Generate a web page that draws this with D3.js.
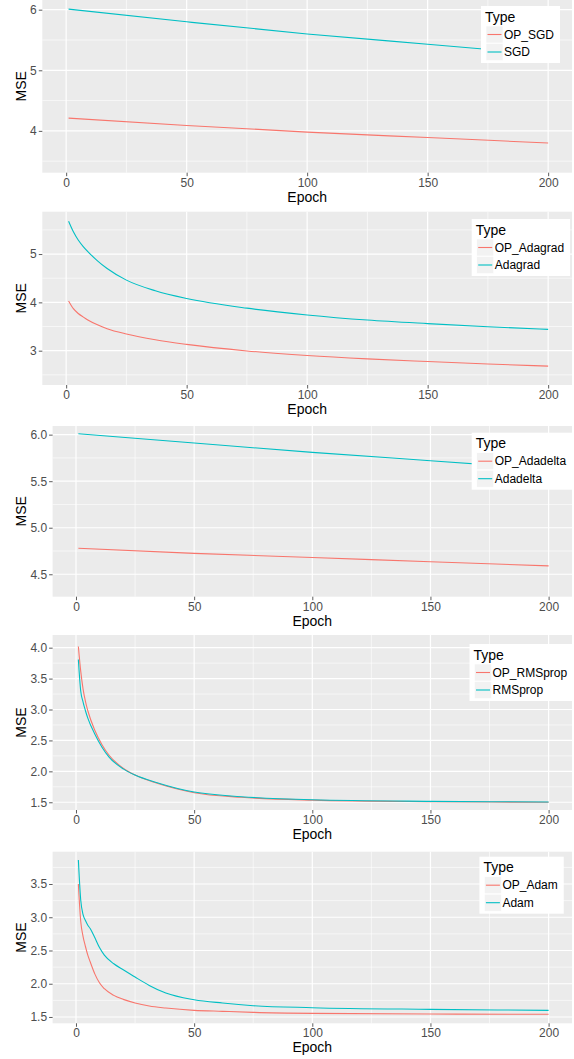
<!DOCTYPE html>
<html>
<head>
<meta charset="utf-8">
<script src="https://cdn.jsdelivr.net/npm/d3@7"></script>
<style>
  body { margin: 0; background: #fff; }
  text { font-family: "Liberation Sans", Arial, Helvetica, sans-serif; }
</style>
</head>
<body>
<div id="viz"></div>
<script>
// data (epoch -> MSE)
var epochsSGD = [1, 50, 100, 150, 200];
var opSGD = [4.21, 4.09, 3.98, 3.89, 3.80];
var SGD = [6.01, 5.80, 5.60, 5.43, 5.26];

var epochsAdagrad = [1, 3, 5, 7, 9, 13, 17, 25, 37, 50, 75, 100, 125, 150, 175, 200];
var opAdagrad = [4.03, 3.87, 3.77, 3.70, 3.635, 3.535, 3.455, 3.345, 3.225, 3.13, 2.995, 2.90, 2.83, 2.775, 2.725, 2.68];
var Adagrad = [5.68, 5.46, 5.29, 5.16, 5.05, 4.86, 4.70, 4.46, 4.24, 4.08, 3.88, 3.74, 3.635, 3.56, 3.495, 3.44];

var epochsAdadelta = [1, 50, 100, 150, 200];
var opAdadelta = [4.78, 4.725, 4.68, 4.635, 4.59];
var Adadelta = [6.01, 5.91, 5.81, 5.72, 5.63];

var epochsRMSprop = [1, 2, 3, 4, 5, 8, 11, 14, 20, 25, 34, 50, 70, 100, 150, 200];
var opRMSprop = [4.02, 3.62, 3.33, 3.13, 2.98, 2.66, 2.43, 2.26, 2.05, 1.94, 1.81, 1.655, 1.58, 1.535, 1.51, 1.50];
var RMSprop = [3.81, 3.30, 3.12, 2.98, 2.86, 2.60, 2.39, 2.23, 2.04, 1.94, 1.82, 1.665, 1.59, 1.54, 1.515, 1.505];

var epochsAdam = [1, 2, 3, 4, 5, 6, 8, 10, 12, 16, 20, 25, 31, 38, 50, 62, 75, 100, 150, 200];
var opAdam = [3.50, 2.94, 2.71, 2.56, 2.43, 2.33, 2.145, 2.01, 1.925, 1.825, 1.765, 1.71, 1.665, 1.635, 1.60, 1.585, 1.57, 1.555, 1.545, 1.54];
var Adam = [3.86, 3.26, 3.04, 2.95, 2.88, 2.83, 2.69, 2.54, 2.43, 2.30, 2.21, 2.10, 1.975, 1.86, 1.76, 1.71, 1.67, 1.64, 1.615, 1.60];

var seriesNames = [
  ["OP_SGD", "SGD"],
  ["OP_Adagrad", "Adagrad"],
  ["OP_Adadelta", "Adadelta"],
  ["OP_RMSprop", "RMSprop"],
  ["OP_Adam", "Adam"]
];
var xTicks = [0, 50, 100, 150, 200];
var xMinor = [25, 75, 125, 175];

var colors = ["#F8766D", "#00BFC4"];

// layout of each panel
var panels = [
  {ep: epochsSGD, a: opSGD, b: SGD, top: 0, bottom: 172.7, left: 42.3, yd: [3.31, 6.16],
   ticks: [4, 5, 6], minor: [3.5, 4.5, 5.5], fmt: d3.format("d"), lx: 481, ly: 6},
  {ep: epochsAdagrad, a: opAdagrad, b: Adagrad, top: 211.7, bottom: 385, left: 42.3, yd: [2.29, 5.876],
   ticks: [3, 4, 5], minor: [2.5, 3.5, 4.5, 5.5], fmt: d3.format("d"), lx: 471.7, ly: 219},
  {ep: epochsAdadelta, a: opAdadelta, b: Adadelta, top: 426, bottom: 596.7, left: 52.6, yd: [4.259, 6.093],
   ticks: [4.5, 5.0, 5.5, 6.0], minor: [4.75, 5.25, 5.75], fmt: d3.format(".1f"), lx: 471.7, ly: 432.7},
  {ep: epochsRMSprop, a: opRMSprop, b: RMSprop, top: 635, bottom: 810, left: 52.6, yd: [1.375, 4.205],
   ticks: [1.5, 2.0, 2.5, 3.0, 3.5, 4.0], minor: [1.75, 2.25, 2.75, 3.25, 3.75], fmt: d3.format(".1f"), lx: 469.5, ly: 644},
  {ep: epochsAdam, a: opAdam, b: Adam, top: 851.7, bottom: 1023.3, left: 52.6, yd: [1.405, 3.986],
   ticks: [1.5, 2.0, 2.5, 3.0, 3.5], minor: [1.75, 2.25, 2.75, 3.25, 3.75], fmt: d3.format(".1f"), lx: 479.4, ly: 856.7}
];

var svg = d3.select("#viz")
  .append("svg")
  .attr("width", 574)
  .attr("height", 1059);

var right = 572;

panels.forEach(function(p, i) {
  var x = d3.scaleLinear().domain([-9.9, 209.9]).range([p.left, right]);
  var y = d3.scaleLinear().domain(p.yd).range([p.bottom, p.top]);
  var g = svg.append("g");

  // panel background
  g.append("rect")
    .attr("x", p.left).attr("y", p.top)
    .attr("width", right - p.left).attr("height", p.bottom - p.top)
    .style("fill", "#EBEBEB");

  // grid
  g.selectAll(".hminor").data(p.minor).enter().append("line")
    .attr("x1", p.left).attr("x2", right)
    .attr("y1", function(d) {return y(d);}).attr("y2", function(d) {return y(d);})
    .style("stroke", "#fff").style("stroke-width", 0.6);
  g.selectAll(".vminor").data(xMinor).enter().append("line")
    .attr("y1", p.top).attr("y2", p.bottom)
    .attr("x1", function(d) {return x(d);}).attr("x2", function(d) {return x(d);})
    .style("stroke", "#fff").style("stroke-width", 0.6);
  g.selectAll(".hmajor").data(p.ticks).enter().append("line")
    .attr("x1", p.left).attr("x2", right)
    .attr("y1", function(d) {return y(d);}).attr("y2", function(d) {return y(d);})
    .style("stroke", "#fff").style("stroke-width", 1.2);
  g.selectAll(".vmajor").data(xTicks).enter().append("line")
    .attr("y1", p.top).attr("y2", p.bottom)
    .attr("x1", function(d) {return x(d);}).attr("x2", function(d) {return x(d);})
    .style("stroke", "#fff").style("stroke-width", 1.2);

  // lines
  var line = d3.line()
    .x(function(d) {return x(d[0]);})
    .y(function(d) {return y(d[1]);})
    .curve(d3.curveMonotoneX);
  [p.a, p.b].forEach(function(vals, k) {
    g.append("path")
      .datum(p.ep.map(function(e, j) {return [e, vals[j]];}))
      .attr("d", line)
      .style("fill", "none")
      .style("stroke", colors[k])
      .style("stroke-width", 1.1);
  });

  // axes
  var xAxis = g.append("g")
    .attr("transform", "translate(0," + p.bottom + ")")
    .call(d3.axisBottom(x).tickValues(xTicks).tickSize(3.5).tickPadding(2));
  var yAxis = g.append("g")
    .attr("transform", "translate(" + p.left + ",0)")
    .call(d3.axisLeft(y).tickValues(p.ticks).tickFormat(p.fmt).tickSize(3.5).tickPadding(2));
  [xAxis, yAxis].forEach(function(a) {
    a.select(".domain").remove();
    a.selectAll(".tick line").style("stroke", "#333").style("stroke-width", 0.8);
    a.selectAll("text").style("fill", "#4D4D4D").style("font-size", "12px")
      .style("font-family", "'Liberation Sans', Arial, sans-serif");
  });

  // axis titles
  g.append("text")
    .attr("x", (p.left + right) / 2).attr("y", p.bottom + 29)
    .attr("text-anchor", "middle")
    .style("font-size", "14px")
    .text("Epoch");
  g.append("text")
    .attr("transform", "translate(26," + ((p.top + p.bottom) / 2) + ") rotate(-90)")
    .attr("text-anchor", "middle")
    .style("font-size", "14px")
    .text("MSE");

  // legend
  var lg = g.append("g").attr("transform", "translate(" + p.lx + "," + p.ly + ")");
  var box = lg.append("rect")
    .attr("x", 0).attr("y", 0).attr("height", 57)
    .style("fill", "#fff");
  lg.append("text")
    .attr("x", 4).attr("y", 15.5)
    .style("font-size", "14px")
    .text("Type");
  var maxW = 0;
  seriesNames[i].forEach(function(name, k) {
    var cy = 28.5 + k * 17.5;
    lg.append("rect")
      .attr("x", 5).attr("y", cy - 8.5).attr("width", 17).attr("height", 17)
      .style("fill", "#F2F2F2").style("stroke", "#fff").style("stroke-width", 0.6);
    lg.append("line")
      .attr("x1", 6.5).attr("x2", 20.5).attr("y1", cy).attr("y2", cy)
      .style("stroke", colors[k]).style("stroke-width", 1.1);
    var t = lg.append("text")
      .attr("x", 23).attr("y", cy + 4.2)
      .style("font-size", "12px")
      .text(name);
    maxW = Math.max(maxW, t.node().getComputedTextLength());
  });
  box.attr("width", 23 + maxW + 6);
});
</script>
</body>
</html>
